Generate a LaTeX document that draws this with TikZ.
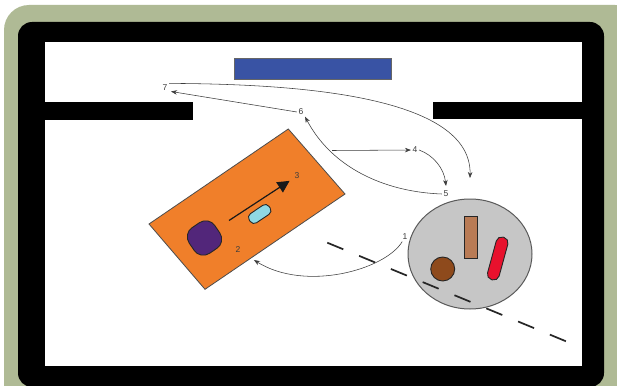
\documentclass[tikz,border=0pt]{standalone}
\usepackage{fontspec}
\setmainfont{Liberation Sans}
\usetikzlibrary{arrows.meta}
\definecolor{framegreen}{HTML}{AFBA95}
\definecolor{wallblue}{HTML}{3953A4}
\definecolor{tableorange}{HTML}{F07F2A}
\definecolor{itempurple}{HTML}{52267A}
\definecolor{itemcyan}{HTML}{8FD8E4}
\definecolor{disc}{HTML}{C6C6C6}
\definecolor{itemtan}{HTML}{B97B55}
\definecolor{itembrown}{HTML}{8E4A1C}
\definecolor{itemred}{HTML}{E8112D}
\definecolor{linegray}{HTML}{3C3C3C}
\tikzset{
  num/.style={font=\fontsize{8.5}{9}\selectfont, text=linegray, inner sep=1.5pt},
  flow/.style={draw=linegray, line width=0.55pt, -{Stealth[length=6pt,width=4.5pt]}},
  item/.style={draw=black!85, line width=0.9pt, inner sep=0pt},
  wall/.style={fill=black, draw=none}
}
\begin{document}
\begin{tikzpicture}[x=1pt,y=-1pt]
\useasboundingbox (0,0) rectangle (617,385);
\fill[white] (0,0) rectangle (617,385);
\begin{scope}
\clip (0,0) rectangle (617,385);
\fill[framegreen, rounded corners=25pt] (4,5) rectangle (640,420);
\fill[black, rounded corners=14pt] (18,22) rectangle (604,387);
\end{scope}
\fill[white] (44.5,42) rectangle (582,366);
\fill[wall] (18,102) rectangle (193,119.5);
\fill[wall] (433,102) rectangle (582,119);
\fill[wallblue, draw=black!60, line width=0.3pt] (234,58) rectangle (391,79);
% table
\filldraw[fill=tableorange, draw=black!70, line width=0.8pt, line join=miter]
  (288.3,129) -- (345,194) -- (205,289.3) -- (149,224) -- cycle;
\node[item, fill=itempurple, rotate=34, minimum width=31pt, minimum height=31pt, rounded corners=11pt] (purple) at (204.5,238) {};
\node[item, fill=itemcyan, rotate=34, minimum width=24pt, minimum height=11pt, rounded corners=4.5pt] (cyan) at (259.7,214) {};
% disc
\filldraw[fill=disc, draw=black!65, line width=1pt] (470,254) ellipse [x radius=62, y radius=55];
\node[item, fill=itemtan, minimum width=13pt, minimum height=42pt] (tan) at (470.5,237) {};
\node[item, fill=itembrown, circle, minimum size=24pt] (brown) at (442.7,269) {};
\node[item, fill=itemred, rotate=74.7, minimum width=44pt, minimum height=12pt, rounded corners=5.5pt] (red) at (497.7,258.5) {};
% dashed line
\coordinate (dashA) at (327.3,242.7);
\coordinate (dashB) at (566,341.3);
\draw[black!85, line width=1.7pt, dash pattern=on 17.3pt off 17.1pt] (dashA) -- (dashB);
% labels
\node[num] (n1) at (405,237) {1};
\node[num] (n2) at (238,250) {2};
\node[num] (n3) at (297,176) {3};
\node[num] (n4) at (415,150) {4};
\node[num] (n5) at (446,194) {5};
\node[num] (n6) at (301,112) {6};
\node[num] (n7) at (165,88) {7};
\coordinate (start4) at (332,150.5);
\coordinate (start3) at (229,220.5);
\coordinate (end7) at (470,178);
% connectors
\draw[flow, shorten >=14pt] (n1) .. controls (385,270) and (305,292) .. (n2);
\draw[black!90, line width=1.2pt, shorten >=4pt, -{Triangle[length=12pt,width=12pt]}] (start3) -- (n3);
\draw[flow] (start4) -- (n4);
\draw[flow] (n4.east) .. controls (433,155) and (444,168) .. (446,186);
\draw[flow] (n5.west) .. controls (385,192) and (332,168) .. (n6.south east);
\draw[flow] (n6.west) -- (171,91.5);
\draw[flow] (n7.north east) .. controls (270,84) and (472,90) .. (end7);
\end{tikzpicture}
\end{document}
